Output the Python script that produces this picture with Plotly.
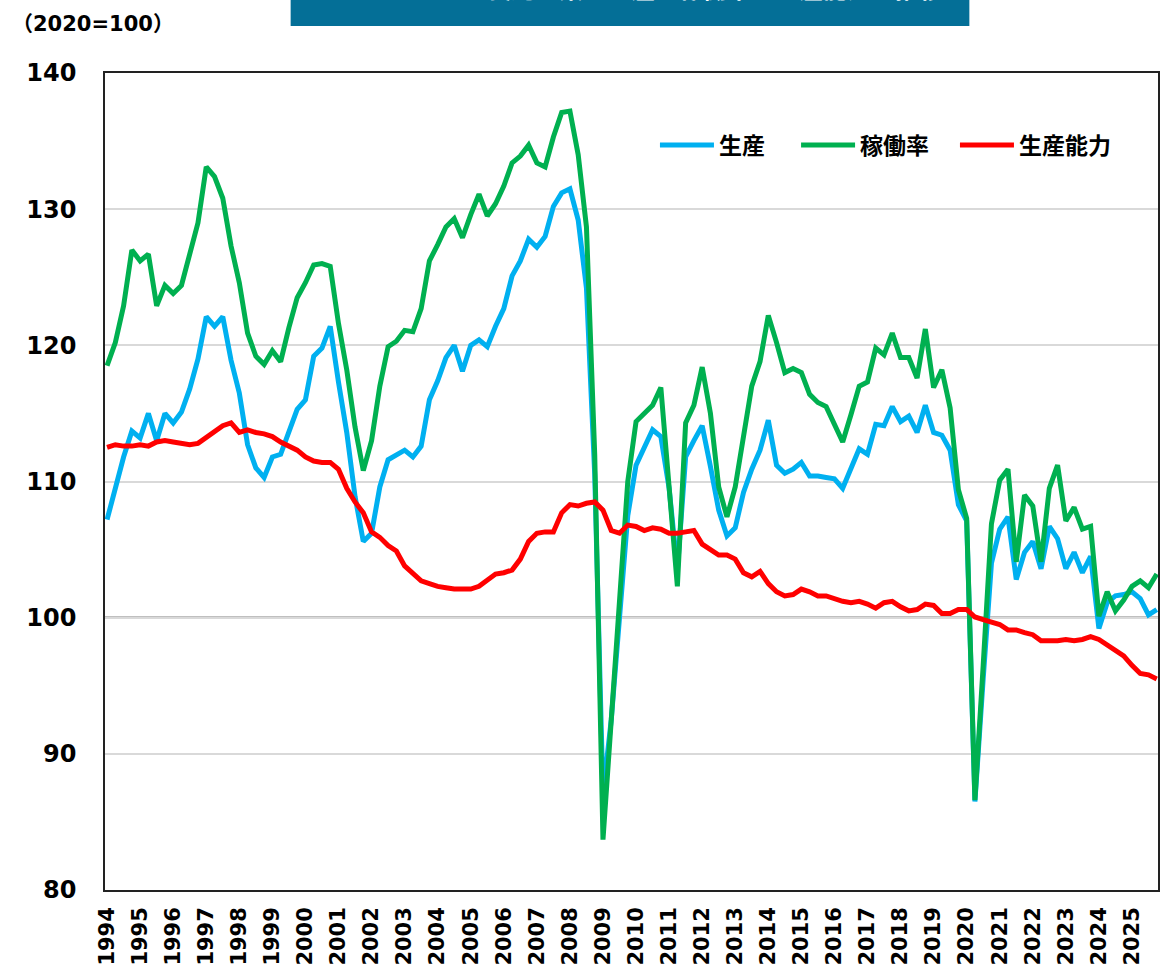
import plotly.graph_objects as go

years = list(range(1994, 2026))

production = [
    107.2, 109.6, 111.8, 113.7, 113.2, 115.0, 113.0, 115.0, 114.3, 115.1,
    116.8, 119.0, 122.1, 121.4, 122.1, 118.9, 116.5, 112.7, 111.0, 110.3,
    111.8, 112.0, 113.7, 115.3, 116.0, 119.2, 119.8, 121.4, 117.3, 113.6,
    108.9, 105.6, 106.2, 109.6, 111.6, 112.0, 112.3, 111.8, 112.6, 116.0,
    117.4, 119.1, 120.0, 118.1, 120.0, 120.4, 119.9, 121.4, 122.7, 125.1,
    126.2, 127.8, 127.2, 128.0, 130.2, 131.2, 131.5, 129.2, 124.2, 110.5,
    87.0, 92.5, 100.5, 107.5, 111.2, 112.6, 113.8, 113.3, 109.5, 103.5,
    111.8, 113.0, 114.1, 111.1, 107.9, 106.0, 106.6, 109.2, 110.9, 112.3,
    114.5, 111.2, 110.6, 110.9, 111.4, 110.4, 110.4, 110.3, 110.2, 109.5,
    111.0, 112.4, 112.0, 114.2, 114.1, 115.5, 114.4, 114.8, 113.6, 115.6,
    113.6, 113.4, 112.3, 108.3, 107.1, 86.5, 95.5, 104.0, 106.5, 107.4,
    102.8, 104.8, 105.6, 103.6, 106.7, 105.8, 103.6, 104.8, 103.3, 104.5,
    99.2, 101.1, 101.6, 101.7, 101.9, 101.4, 100.2, 100.6,
]

utilization = [
    118.5, 120.2, 122.9, 127.0, 126.2, 126.7, 122.9, 124.4, 123.8, 124.4,
    126.7, 129.0, 133.1, 132.4, 130.8, 127.3, 124.6, 120.9, 119.2, 118.6,
    119.6, 118.8, 121.3, 123.5, 124.6, 125.9, 126.0, 125.8, 121.6, 118.2,
    114.0, 110.8, 113.0, 117.0, 119.9, 120.3, 121.1, 121.0, 122.7, 126.2,
    127.4, 128.7, 129.3, 127.9, 129.6, 131.1, 129.5, 130.4, 131.7, 133.4,
    133.9, 134.7, 133.4, 133.1, 135.3, 137.1, 137.2, 134.0, 128.7, 112.0,
    83.7, 92.4, 101.5, 110.0, 114.4, 115.0, 115.6, 116.9, 110.0, 102.3,
    114.3, 115.6, 118.4, 115.0, 109.6, 107.4, 109.6, 113.6, 117.0, 118.8,
    122.2, 120.2, 118.0, 118.3, 118.0, 116.4, 115.8, 115.5, 114.2, 112.9,
    114.9, 117.0, 117.3, 119.8, 119.3, 120.9, 119.1, 119.1, 117.6, 121.2,
    116.9, 118.2, 115.4, 109.4, 107.3, 86.6, 96.5, 106.9, 110.1, 110.9,
    104.1, 109.0, 108.2, 104.1, 109.5, 111.2, 107.1, 108.1, 106.5, 106.7,
    100.1, 101.9, 100.5, 101.3, 102.3, 102.7, 102.2, 103.2,
]

capacity = [
    112.5, 112.7, 112.6, 112.6, 112.7, 112.6, 112.9, 113.0, 112.9, 112.8,
    112.7, 112.8, 113.2, 113.6, 114.1, 114.3, 113.6, 113.8, 113.6, 113.5,
    113.3, 112.9, 112.6, 112.3, 111.8, 111.5, 111.4, 111.4, 110.9, 109.5,
    108.5, 107.7, 106.3, 105.9, 105.3, 104.9, 103.8, 103.2, 102.7, 102.5,
    102.3, 102.2, 102.1, 102.1, 102.1, 102.3, 102.8, 103.2, 103.3, 103.5,
    104.3, 105.6, 106.2, 106.3, 106.3, 107.7, 108.3, 108.2, 108.4, 108.5,
    107.9, 106.4, 106.2, 106.8, 106.7, 106.4, 106.6, 106.5, 106.2, 106.2,
    106.3, 106.4, 105.4, 105.0, 104.6, 104.6, 104.3, 103.3, 103.0, 103.4,
    102.5, 101.9, 101.6, 101.7, 102.1, 101.9, 101.6, 101.6, 101.4, 101.2,
    101.1, 101.2, 101.0, 100.7, 101.1, 101.2, 100.8, 100.5, 100.6, 101.0,
    100.9, 100.3, 100.3, 100.6, 100.6, 100.05, 99.85, 99.7, 99.5, 99.1,
    99.1, 98.9, 98.75, 98.3, 98.3, 98.3, 98.4, 98.3, 98.4, 98.6,
    98.4, 98.0, 97.5, 97.2, 96.5, 95.9, 95.8, 95.5,
]

series_names = ["生産", "稼働率", "生産能力"]
series_colors = ["#00B0F0", "#00B050", "#FF0000"]
legend_pad = [5, 4, 0]  # non-breaking spaces after each legend label

quarters = list(range(len(production)))
tick_positions = [4 * k for k in range(len(years))]
tick_text = [str(y) for y in years]

W, H = 1163, 973
L, R, T, B = 105, 1160, 73, 890
pw, ph = R - L, B - T


def px_x(px):
    return (px - L) / pw


def px_y(py):
    return (B - py) / ph


JP = "Noto Sans CJK JP"
LAT = "DejaVu Sans"

fig = go.Figure()
for name, vals, col, pad in zip(series_names, [production, utilization, capacity],
                                series_colors, legend_pad):
    fig.add_trace(go.Scatter(
        x=quarters, y=vals, name=name + "\u00a0" * pad, mode="lines",
        line=dict(color=col, width=5, shape="linear"),
        hoverinfo="skip",
    ))

fig.update_layout(
    width=W, height=H,
    margin=dict(l=L, r=W - R, t=T, b=H - B, pad=0),
    plot_bgcolor="white", paper_bgcolor="white",
    showlegend=True,
    legend=dict(
        orientation="h", x=px_x(656), y=px_y(145), xanchor="left", yanchor="middle",
        font=dict(family=JP, size=23, color="black", weight="bold"),
        bgcolor="rgba(0,0,0,0)", itemwidth=54, traceorder="normal",
    ),
)

fig.update_xaxes(
    range=[-0.25, 127.15],
    tickmode="array", tickvals=tick_positions, ticktext=tick_text,
    tickangle=-90,
    tickfont=dict(family=LAT, size=21, color="black", weight="bold"),
    showgrid=False, zeroline=False,
    showline=True, linecolor="#222222", linewidth=1.5, mirror=True,
    ticks="", ticklabelstandoff=7,
)
fig.update_yaxes(
    range=[80, 140], tickmode="linear", tick0=80, dtick=10,
    tickfont=dict(family=LAT, size=24, color="black", weight="bold"),
    showgrid=True, gridcolor="#D9D9D9", gridwidth=1.5,
    zeroline=False,
    showline=True, linecolor="#222222", linewidth=1.5, mirror=True,
    ticks="", ticklabelstandoff=22,
)

# reference line at 100
fig.add_shape(type="line", xref="paper", yref="y", x0=0, x1=1, y0=100, y1=100,
              line=dict(color="black", width=2), layer="below")

# title bar (top, cut off)
fig.add_shape(type="rect", xref="paper", yref="paper",
              x0=px_x(291), x1=px_x(971), y0=px_y(26), y1=px_y(-5),
              fillcolor="#046F97", line=dict(width=0), layer="above")
fig.add_annotation(xref="paper", yref="paper", x=px_x(716), y=px_y(7),
                   xanchor="center", yanchor="bottom", showarrow=False,
                   text="製造工業の生産・稼働率・生産能力の推移",
                   font=dict(family=JP, size=24, color="white", weight="bold"))

# unit label
fig.add_annotation(xref="paper", yref="paper", x=px_x(10), y=px_y(22),
                   xanchor="left", yanchor="middle", showarrow=False,
                   text="<span style='font-family:Noto Sans CJK JP'>（</span>2020=100"
                        "<span style='font-family:Noto Sans CJK JP'>）</span>",
                   font=dict(family=LAT, size=21, color="black", weight="bold"))

fig.write_html("out.html", config={"displayModeBar": False},
               post_script="document.body.style.margin='0';")
